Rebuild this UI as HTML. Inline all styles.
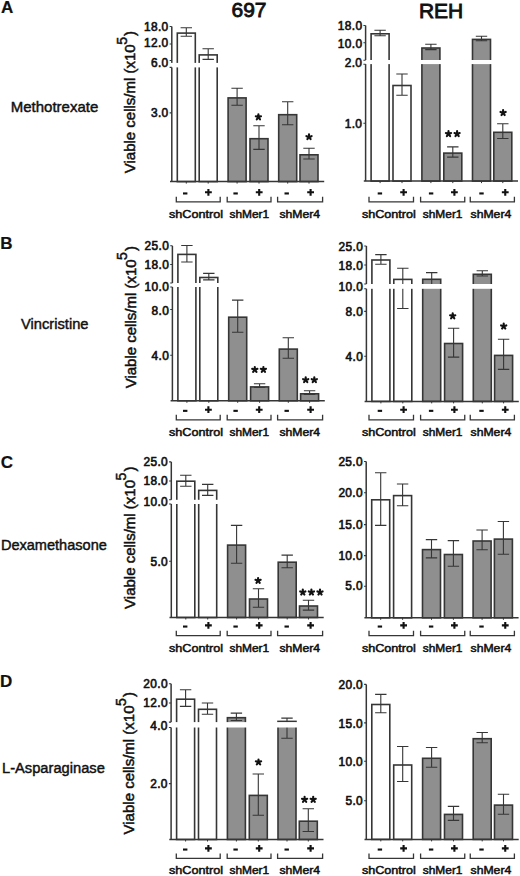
<!DOCTYPE html>
<html><head><meta charset="utf-8"><style>
html,body{margin:0;padding:0;background:#fff;}
svg{display:block;}
text{font-family:"Liberation Sans",sans-serif;fill:#111;stroke:#111;stroke-width:0.35px;}
.tl{font-size:11.9px;letter-spacing:0.35px;text-anchor:end;stroke-width:0.62px;}
.gl{font-size:10.9px;stroke-width:0.5px;}
.st{stroke-width:0.5px;font-size:17.5px;font-weight:bold;text-anchor:middle;letter-spacing:1.5px;}
.yl{font-size:15px;stroke-width:0.5px;}
.pl{font-size:17px;font-weight:bold;stroke-width:0.2px;}
.dl{stroke-width:0.45px;}
.tt{font-size:21px;stroke-width:0.85px;}
</style></head><body>
<svg width="520" height="876" viewBox="0 0 520 876">
<rect width="520" height="876" fill="#fff"/>
<rect x="177.3" y="33.1" width="18" height="148.5" fill="#fff" stroke="#363636" stroke-width="1.6"/>
<path d="M186.3 27.7V36.3M180.6 27.7H192M180.6 36.3H192" stroke="#363636" stroke-width="1.1" fill="none"/>
<rect x="199.2" y="54.9" width="18" height="126.7" fill="#fff" stroke="#363636" stroke-width="1.6"/>
<path d="M208.2 48.7V59.4M202.5 48.7H213.9M202.5 59.4H213.9" stroke="#363636" stroke-width="1.1" fill="none"/>
<rect x="228.1" y="97.9" width="18" height="83.7" fill="#8f8f8f" stroke="#363636" stroke-width="1.6"/>
<path d="M237.1 88.2V105.2M231.4 88.2H242.8M231.4 105.2H242.8" stroke="#363636" stroke-width="1.1" fill="none"/>
<rect x="250" y="138.7" width="18" height="42.9" fill="#8f8f8f" stroke="#363636" stroke-width="1.6"/>
<path d="M259 125.8V149.4M253.3 125.8H264.7M253.3 149.4H264.7" stroke="#363636" stroke-width="1.1" fill="none"/>
<rect x="278.7" y="114.7" width="18" height="66.9" fill="#8f8f8f" stroke="#363636" stroke-width="1.6"/>
<path d="M287.7 101.8V124.8M282 101.8H293.4M282 124.8H293.4" stroke="#363636" stroke-width="1.1" fill="none"/>
<rect x="300" y="154.8" width="18" height="26.8" fill="#8f8f8f" stroke="#363636" stroke-width="1.6"/>
<path d="M309 148.3V159M303.3 148.3H314.7M303.3 159H314.7" stroke="#363636" stroke-width="1.1" fill="none"/>
<path d="M171.8 26.5V181.6" stroke="#363636" stroke-width="1.5" fill="none"/>
<rect x="168.8" y="62.9" width="152" height="4.5" fill="#fff"/>
<path d="M169.6 26.5H171.8M169.6 44H171.8M169.6 60.5H171.8M169.6 67.4H171.8M169.6 112.9H171.8" stroke="#363636" stroke-width="1.1" fill="none"/>
<text x="168.55" y="30.75" class="tl">18.0</text>
<text x="168.55" y="46.75" class="tl">12.0</text>
<text x="168.55" y="66.85" class="tl">6.0</text>
<text x="168.55" y="117.05" class="tl">3.0</text>
<path d="M170 181.6H324.2" stroke="#363636" stroke-width="1.5" fill="none"/>
<path d="M186.3 181.6v2M208.2 181.6v2M237.1 181.6v2M259 181.6v2M287.7 181.6v2M309 181.6v2" stroke="#363636" stroke-width="1" fill="none"/>
<rect x="183" y="192.4" width="4.4" height="2.1" fill="#111"/>
<path d="M205 192.3H211.8M208.4 188.9V195.7" stroke="#111" stroke-width="2.1" fill="none"/>
<path d="M176.3 196.8V201.8H220.2V196.8" stroke="#363636" stroke-width="1.3" fill="none"/>
<text x="169.05" y="217.5" class="gl" textLength="54.0" lengthAdjust="spacingAndGlyphs">shControl</text>
<rect x="233.4" y="192.4" width="4.4" height="2.1" fill="#111"/>
<path d="M255.8 192.3H262.6M259.2 188.9V195.7" stroke="#111" stroke-width="2.1" fill="none"/>
<path d="M227.2 196.8V201.8H271V196.8" stroke="#363636" stroke-width="1.3" fill="none"/>
<text x="229.5" y="217.5" class="gl" textLength="39.7" lengthAdjust="spacingAndGlyphs">shMer1</text>
<rect x="284.5" y="192.4" width="4.4" height="2.1" fill="#111"/>
<path d="M307.2 192.3H314M310.6 188.9V195.7" stroke="#111" stroke-width="2.1" fill="none"/>
<path d="M277.6 196.8V201.8H322.6V196.8" stroke="#363636" stroke-width="1.3" fill="none"/>
<text x="279.4" y="217.5" class="gl" textLength="40.7" lengthAdjust="spacingAndGlyphs">shMer4</text>
<path d="M258.4 117.1L258.4 114.35M258.4 117.1L261.02 116.25M258.4 117.1L260.02 119.32M258.4 117.1L256.78 119.32M258.4 117.1L255.78 116.25" stroke="#111" stroke-width="2.1" stroke-linecap="round" fill="none"/>
<path d="M309 137L309 134.25M309 137L311.62 136.15M309 137L310.62 139.22M309 137L307.38 139.22M309 137L306.38 136.15" stroke="#111" stroke-width="2.1" stroke-linecap="round" fill="none"/>
<text transform="translate(135.1,173.25) rotate(-90)" class="yl">Viable cells/ml (x10<tspan dx="-0.5" dy="-8.6" font-size="14">5</tspan><tspan dx="1.1" dy="8.6">)</tspan></text>
<rect x="371.1" y="33.8" width="18" height="147.3" fill="#fff" stroke="#363636" stroke-width="1.6"/>
<path d="M380.1 30.2V35.8M374.4 30.2H385.8M374.4 35.8H385.8" stroke="#363636" stroke-width="1.1" fill="none"/>
<rect x="393" y="85.5" width="18" height="95.6" fill="#fff" stroke="#363636" stroke-width="1.6"/>
<path d="M402 74V95.3M396.3 74H407.7M396.3 95.3H407.7" stroke="#363636" stroke-width="1.1" fill="none"/>
<rect x="421.9" y="48" width="18" height="133.1" fill="#8f8f8f" stroke="#363636" stroke-width="1.6"/>
<path d="M430.9 44.3V49.6M425.2 44.3H436.6M425.2 49.6H436.6" stroke="#363636" stroke-width="1.1" fill="none"/>
<rect x="443.8" y="153.1" width="18" height="28" fill="#8f8f8f" stroke="#363636" stroke-width="1.6"/>
<path d="M452.8 146.9V157.1M447.1 146.9H458.5M447.1 157.1H458.5" stroke="#363636" stroke-width="1.1" fill="none"/>
<rect x="472.5" y="39.4" width="18" height="141.7" fill="#8f8f8f" stroke="#363636" stroke-width="1.6"/>
<path d="M481.5 36.3V40.7M475.8 36.3H487.2M475.8 40.7H487.2" stroke="#363636" stroke-width="1.1" fill="none"/>
<rect x="493.8" y="132.3" width="18" height="48.8" fill="#8f8f8f" stroke="#363636" stroke-width="1.6"/>
<path d="M502.8 123.8V138.5M497.1 123.8H508.5M497.1 138.5H508.5" stroke="#363636" stroke-width="1.1" fill="none"/>
<path d="M365.6 25.5V181.1" stroke="#363636" stroke-width="1.5" fill="none"/>
<rect x="362.6" y="60" width="152" height="4.1" fill="#fff"/>
<path d="M363.4 25.5H365.6M363.4 42.8H365.6M363.4 60.2H365.6M363.4 64.2H365.6M363.4 123.3H365.6" stroke="#363636" stroke-width="1.1" fill="none"/>
<text x="362.35" y="30.25" class="tl">18.0</text>
<text x="362.35" y="47.65" class="tl">10.0</text>
<text x="362.35" y="67.15" class="tl">2.0</text>
<text x="362.35" y="127.75" class="tl">1.0</text>
<path d="M363.8 181.1H518" stroke="#363636" stroke-width="1.5" fill="none"/>
<path d="M380.1 181.1v2M402 181.1v2M430.9 181.1v2M452.8 181.1v2M481.5 181.1v2M502.8 181.1v2" stroke="#363636" stroke-width="1" fill="none"/>
<rect x="377.7" y="192.4" width="4.4" height="2.1" fill="#111"/>
<path d="M400.2 192.3H407M403.6 188.9V195.7" stroke="#111" stroke-width="2.1" fill="none"/>
<path d="M369 196.8V201.8H413.5V196.8" stroke="#363636" stroke-width="1.3" fill="none"/>
<text x="361.9" y="217.5" class="gl" textLength="54.0" lengthAdjust="spacingAndGlyphs">shControl</text>
<rect x="428.9" y="192.4" width="4.4" height="2.1" fill="#111"/>
<path d="M451 192.3H457.8M454.4 188.9V195.7" stroke="#111" stroke-width="2.1" fill="none"/>
<path d="M420.6 196.8V201.8H464.75V196.8" stroke="#363636" stroke-width="1.3" fill="none"/>
<text x="422.8" y="217.5" class="gl" textLength="39.7" lengthAdjust="spacingAndGlyphs">shMer1</text>
<rect x="479.3" y="192.4" width="4.4" height="2.1" fill="#111"/>
<path d="M501.85 192.3H508.65M505.25 188.9V195.7" stroke="#111" stroke-width="2.1" fill="none"/>
<path d="M470.25 196.8V201.8H514.4V196.8" stroke="#363636" stroke-width="1.3" fill="none"/>
<text x="470.55" y="217.5" class="gl" textLength="40.7" lengthAdjust="spacingAndGlyphs">shMer4</text>
<path d="M448.5 133.9L448.5 131.15M448.5 133.9L451.12 133.05M448.5 133.9L450.12 136.12M448.5 133.9L446.88 136.12M448.5 133.9L445.88 133.05" stroke="#111" stroke-width="2.1" stroke-linecap="round" fill="none"/>
<path d="M457.1 133.9L457.1 131.15M457.1 133.9L459.72 133.05M457.1 133.9L458.72 136.12M457.1 133.9L455.48 136.12M457.1 133.9L454.48 133.05" stroke="#111" stroke-width="2.1" stroke-linecap="round" fill="none"/>
<path d="M503.1 112.8L503.1 110.05M503.1 112.8L505.72 111.95M503.1 112.8L504.72 115.02M503.1 112.8L501.48 115.02M503.1 112.8L500.48 111.95" stroke="#111" stroke-width="2.1" stroke-linecap="round" fill="none"/>
<rect x="177.9" y="254.4" width="18" height="146.4" fill="#fff" stroke="#363636" stroke-width="1.6"/>
<path d="M186.9 245.5V262M181.2 245.5H192.6M181.2 262H192.6" stroke="#363636" stroke-width="1.1" fill="none"/>
<rect x="199.8" y="277.5" width="18" height="123.3" fill="#fff" stroke="#363636" stroke-width="1.6"/>
<path d="M208.8 273.4V279.9M203.1 273.4H214.5M203.1 279.9H214.5" stroke="#363636" stroke-width="1.1" fill="none"/>
<rect x="228.7" y="317.2" width="18" height="83.6" fill="#8f8f8f" stroke="#363636" stroke-width="1.6"/>
<path d="M237.7 300.1V332.3M232 300.1H243.4M232 332.3H243.4" stroke="#363636" stroke-width="1.1" fill="none"/>
<rect x="250.6" y="386.9" width="18" height="13.9" fill="#8f8f8f" stroke="#363636" stroke-width="1.6"/>
<path d="M259.6 383.8V387.5M253.9 383.8H265.3M253.9 387.5H265.3" stroke="#363636" stroke-width="1.1" fill="none"/>
<rect x="279.3" y="349.1" width="18" height="51.7" fill="#8f8f8f" stroke="#363636" stroke-width="1.6"/>
<path d="M288.3 337.8V358.3M282.6 337.8H294M282.6 358.3H294" stroke="#363636" stroke-width="1.1" fill="none"/>
<rect x="300.6" y="393.8" width="18" height="7" fill="#8f8f8f" stroke="#363636" stroke-width="1.6"/>
<path d="M309.6 390.8V394.4M303.9 390.8H315.3M303.9 394.4H315.3" stroke="#363636" stroke-width="1.1" fill="none"/>
<path d="M172.4 245.8V400.8" stroke="#363636" stroke-width="1.5" fill="none"/>
<rect x="169.4" y="283" width="152" height="4" fill="#fff"/>
<path d="M170.2 245.8H172.4M170.2 264.5H172.4M170.2 283H172.4M170.2 287H172.4M170.2 309.5H172.4M170.2 355.3H172.4" stroke="#363636" stroke-width="1.1" fill="none"/>
<text x="169.15" y="249.75" class="tl">25.0</text>
<text x="169.15" y="268.75" class="tl">18.0</text>
<text x="169.15" y="291.15" class="tl">10.0</text>
<text x="169.15" y="315.15" class="tl">8.0</text>
<text x="169.15" y="360.35" class="tl">4.0</text>
<path d="M170.6 400.8H324.8" stroke="#363636" stroke-width="1.5" fill="none"/>
<path d="M186.9 400.8v2M208.8 400.8v2M237.7 400.8v2M259.6 400.8v2M288.3 400.8v2M309.6 400.8v2" stroke="#363636" stroke-width="1" fill="none"/>
<rect x="183" y="409.8" width="4.4" height="2.1" fill="#111"/>
<path d="M205 409.7H211.8M208.4 406.3V413.1" stroke="#111" stroke-width="2.1" fill="none"/>
<path d="M176.3 414.8V419.8H220.2V414.8" stroke="#363636" stroke-width="1.3" fill="none"/>
<text x="169.05" y="435.6" class="gl" textLength="54.0" lengthAdjust="spacingAndGlyphs">shControl</text>
<rect x="233.4" y="409.8" width="4.4" height="2.1" fill="#111"/>
<path d="M255.8 409.7H262.6M259.2 406.3V413.1" stroke="#111" stroke-width="2.1" fill="none"/>
<path d="M227.2 414.8V419.8H271V414.8" stroke="#363636" stroke-width="1.3" fill="none"/>
<text x="229.5" y="435.6" class="gl" textLength="39.7" lengthAdjust="spacingAndGlyphs">shMer1</text>
<rect x="284.5" y="409.8" width="4.4" height="2.1" fill="#111"/>
<path d="M307.2 409.7H314M310.6 406.3V413.1" stroke="#111" stroke-width="2.1" fill="none"/>
<path d="M277.6 414.8V419.8H322.6V414.8" stroke="#363636" stroke-width="1.3" fill="none"/>
<text x="279.4" y="435.6" class="gl" textLength="40.7" lengthAdjust="spacingAndGlyphs">shMer4</text>
<path d="M254.8 369.7L254.8 366.95M254.8 369.7L257.42 368.85M254.8 369.7L256.42 371.92M254.8 369.7L253.18 371.92M254.8 369.7L252.18 368.85" stroke="#111" stroke-width="2.1" stroke-linecap="round" fill="none"/>
<path d="M263.4 369.7L263.4 366.95M263.4 369.7L266.02 368.85M263.4 369.7L265.02 371.92M263.4 369.7L261.78 371.92M263.4 369.7L260.78 368.85" stroke="#111" stroke-width="2.1" stroke-linecap="round" fill="none"/>
<path d="M305.7 380L305.7 377.25M305.7 380L308.32 379.15M305.7 380L307.32 382.22M305.7 380L304.08 382.22M305.7 380L303.08 379.15" stroke="#111" stroke-width="2.1" stroke-linecap="round" fill="none"/>
<path d="M314.3 380L314.3 377.25M314.3 380L316.92 379.15M314.3 380L315.92 382.22M314.3 380L312.68 382.22M314.3 380L311.68 379.15" stroke="#111" stroke-width="2.1" stroke-linecap="round" fill="none"/>
<text transform="translate(135.7,388.35) rotate(-90)" class="yl">Viable cells/ml (x10<tspan dx="-0.5" dy="-8.6" font-size="14">5</tspan><tspan dx="1.1" dy="8.6">)</tspan></text>
<rect x="371.9" y="260" width="18" height="141.4" fill="#fff" stroke="#363636" stroke-width="1.6"/>
<path d="M380.9 254.6V264.2M375.2 254.6H386.6M375.2 264.2H386.6" stroke="#363636" stroke-width="1.1" fill="none"/>
<rect x="393.8" y="279.4" width="18" height="122" fill="#fff" stroke="#363636" stroke-width="1.6"/>
<path d="M402.8 268.2V308.5M397.1 268.2H408.5M397.1 308.5H408.5" stroke="#363636" stroke-width="1.1" fill="none"/>
<rect x="422.7" y="279.3" width="18" height="122.1" fill="#8f8f8f" stroke="#363636" stroke-width="1.6"/>
<path d="M431.7 272.6V284.5M426 272.6H437.4M426 284.5H437.4" stroke="#363636" stroke-width="1.1" fill="none"/>
<rect x="444.6" y="343.5" width="18" height="57.9" fill="#8f8f8f" stroke="#363636" stroke-width="1.6"/>
<path d="M453.6 328.2V357.1M447.9 328.2H459.3M447.9 357.1H459.3" stroke="#363636" stroke-width="1.1" fill="none"/>
<rect x="473.3" y="274.3" width="18" height="127.1" fill="#8f8f8f" stroke="#363636" stroke-width="1.6"/>
<path d="M482.3 270.8V276M476.6 270.8H488M476.6 276H488" stroke="#363636" stroke-width="1.1" fill="none"/>
<rect x="494.6" y="355.4" width="18" height="46" fill="#8f8f8f" stroke="#363636" stroke-width="1.6"/>
<path d="M503.6 339.3V369.4M497.9 339.3H509.3M497.9 369.4H509.3" stroke="#363636" stroke-width="1.1" fill="none"/>
<path d="M366.4 246V401.4" stroke="#363636" stroke-width="1.5" fill="none"/>
<rect x="363.4" y="284" width="152" height="4.8" fill="#fff"/>
<path d="M364.2 246H366.4M364.2 265H366.4M364.2 284H366.4M364.2 288.8H366.4M364.2 311.4H366.4M364.2 356.3H366.4" stroke="#363636" stroke-width="1.1" fill="none"/>
<text x="363.15" y="250.55" class="tl">25.0</text>
<text x="363.15" y="269.55" class="tl">18.0</text>
<text x="363.15" y="290.85" class="tl">10.0</text>
<text x="363.15" y="315.85" class="tl">8.0</text>
<text x="363.15" y="360.85" class="tl">4.0</text>
<path d="M364.6 401.4H518.8" stroke="#363636" stroke-width="1.5" fill="none"/>
<path d="M380.9 401.4v2M402.8 401.4v2M431.7 401.4v2M453.6 401.4v2M482.3 401.4v2M503.6 401.4v2" stroke="#363636" stroke-width="1" fill="none"/>
<rect x="377.7" y="409.8" width="4.4" height="2.1" fill="#111"/>
<path d="M400.2 409.7H407M403.6 406.3V413.1" stroke="#111" stroke-width="2.1" fill="none"/>
<path d="M369 414.8V419.8H413.5V414.8" stroke="#363636" stroke-width="1.3" fill="none"/>
<text x="361.9" y="435.6" class="gl" textLength="54.0" lengthAdjust="spacingAndGlyphs">shControl</text>
<rect x="428.9" y="409.8" width="4.4" height="2.1" fill="#111"/>
<path d="M451 409.7H457.8M454.4 406.3V413.1" stroke="#111" stroke-width="2.1" fill="none"/>
<path d="M420.6 414.8V419.8H464.75V414.8" stroke="#363636" stroke-width="1.3" fill="none"/>
<text x="422.8" y="435.6" class="gl" textLength="39.7" lengthAdjust="spacingAndGlyphs">shMer1</text>
<rect x="479.3" y="409.8" width="4.4" height="2.1" fill="#111"/>
<path d="M501.85 409.7H508.65M505.25 406.3V413.1" stroke="#111" stroke-width="2.1" fill="none"/>
<path d="M470.25 414.8V419.8H514.4V414.8" stroke="#363636" stroke-width="1.3" fill="none"/>
<text x="470.55" y="435.6" class="gl" textLength="40.7" lengthAdjust="spacingAndGlyphs">shMer4</text>
<path d="M452.7 316.1L452.7 313.35M452.7 316.1L455.32 315.25M452.7 316.1L454.32 318.32M452.7 316.1L451.08 318.32M452.7 316.1L450.08 315.25" stroke="#111" stroke-width="2.1" stroke-linecap="round" fill="none"/>
<path d="M503.7 326.3L503.7 323.55M503.7 326.3L506.32 325.45M503.7 326.3L505.32 328.52M503.7 326.3L502.08 328.52M503.7 326.3L501.08 325.45" stroke="#111" stroke-width="2.1" stroke-linecap="round" fill="none"/>
<rect x="176.8" y="481.2" width="18" height="136.3" fill="#fff" stroke="#363636" stroke-width="1.6"/>
<path d="M185.8 475.2V486.2M180.1 475.2H191.5M180.1 486.2H191.5" stroke="#363636" stroke-width="1.1" fill="none"/>
<rect x="198.7" y="490.4" width="18" height="127.1" fill="#fff" stroke="#363636" stroke-width="1.6"/>
<path d="M207.7 484.4V495.4M202 484.4H213.4M202 495.4H213.4" stroke="#363636" stroke-width="1.1" fill="none"/>
<rect x="227.6" y="545.1" width="18" height="72.4" fill="#8f8f8f" stroke="#363636" stroke-width="1.6"/>
<path d="M236.6 525.4V563.3M230.9 525.4H242.3M230.9 563.3H242.3" stroke="#363636" stroke-width="1.1" fill="none"/>
<rect x="249.5" y="599" width="18" height="18.5" fill="#8f8f8f" stroke="#363636" stroke-width="1.6"/>
<path d="M258.5 588.7V607.3M252.8 588.7H264.2M252.8 607.3H264.2" stroke="#363636" stroke-width="1.1" fill="none"/>
<rect x="278.2" y="562.2" width="18" height="55.3" fill="#8f8f8f" stroke="#363636" stroke-width="1.6"/>
<path d="M287.2 555.1V567.8M281.5 555.1H292.9M281.5 567.8H292.9" stroke="#363636" stroke-width="1.1" fill="none"/>
<rect x="299.5" y="606" width="18" height="11.5" fill="#8f8f8f" stroke="#363636" stroke-width="1.6"/>
<path d="M308.5 600.3V610.1M302.8 600.3H314.2M302.8 610.1H314.2" stroke="#363636" stroke-width="1.1" fill="none"/>
<path d="M171.3 461.9V617.5" stroke="#363636" stroke-width="1.5" fill="none"/>
<rect x="168.3" y="499.8" width="152" height="4.2" fill="#fff"/>
<path d="M169.1 461.9H171.3M169.1 481H171.3M169.1 499.8H171.3M169.1 504H171.3M169.1 561.2H171.3" stroke="#363636" stroke-width="1.1" fill="none"/>
<text x="168.05" y="465.95" class="tl">25.0</text>
<text x="168.05" y="484.75" class="tl">18.0</text>
<text x="168.05" y="505.95" class="tl">10.0</text>
<text x="168.05" y="565.75" class="tl">5.0</text>
<path d="M169.5 617.5H323.7" stroke="#363636" stroke-width="1.5" fill="none"/>
<path d="M185.8 617.5v2M207.7 617.5v2M236.6 617.5v2M258.5 617.5v2M287.2 617.5v2M308.5 617.5v2" stroke="#363636" stroke-width="1" fill="none"/>
<rect x="183" y="625.5" width="4.4" height="2.1" fill="#111"/>
<path d="M205 625.4H211.8M208.4 622V628.8" stroke="#111" stroke-width="2.1" fill="none"/>
<path d="M176.3 630.7V635.7H220.2V630.7" stroke="#363636" stroke-width="1.3" fill="none"/>
<text x="169.05" y="651.7" class="gl" textLength="54.0" lengthAdjust="spacingAndGlyphs">shControl</text>
<rect x="233.4" y="625.5" width="4.4" height="2.1" fill="#111"/>
<path d="M255.8 625.4H262.6M259.2 622V628.8" stroke="#111" stroke-width="2.1" fill="none"/>
<path d="M227.2 630.7V635.7H271V630.7" stroke="#363636" stroke-width="1.3" fill="none"/>
<text x="229.5" y="651.7" class="gl" textLength="39.7" lengthAdjust="spacingAndGlyphs">shMer1</text>
<rect x="284.5" y="625.5" width="4.4" height="2.1" fill="#111"/>
<path d="M307.2 625.4H314M310.6 622V628.8" stroke="#111" stroke-width="2.1" fill="none"/>
<path d="M277.6 630.7V635.7H322.6V630.7" stroke="#363636" stroke-width="1.3" fill="none"/>
<text x="279.4" y="651.7" class="gl" textLength="40.7" lengthAdjust="spacingAndGlyphs">shMer4</text>
<path d="M258.1 580.7L258.1 577.95M258.1 580.7L260.72 579.85M258.1 580.7L259.72 582.92M258.1 580.7L256.48 582.92M258.1 580.7L255.48 579.85" stroke="#111" stroke-width="2.1" stroke-linecap="round" fill="none"/>
<path d="M302.8 592.3L302.8 589.55M302.8 592.3L305.42 591.45M302.8 592.3L304.42 594.52M302.8 592.3L301.18 594.52M302.8 592.3L300.18 591.45" stroke="#111" stroke-width="2.1" stroke-linecap="round" fill="none"/>
<path d="M311.4 592.3L311.4 589.55M311.4 592.3L314.02 591.45M311.4 592.3L313.02 594.52M311.4 592.3L309.78 594.52M311.4 592.3L308.78 591.45" stroke="#111" stroke-width="2.1" stroke-linecap="round" fill="none"/>
<path d="M320 592.3L320 589.55M320 592.3L322.62 591.45M320 592.3L321.62 594.52M320 592.3L318.38 594.52M320 592.3L317.38 591.45" stroke="#111" stroke-width="2.1" stroke-linecap="round" fill="none"/>
<text transform="translate(134.6,608.9) rotate(-90)" class="yl">Viable cells/ml (x10<tspan dx="-0.5" dy="-8.6" font-size="14">5</tspan><tspan dx="1.1" dy="8.6">)</tspan></text>
<rect x="371.7" y="499.8" width="18" height="118" fill="#fff" stroke="#363636" stroke-width="1.6"/>
<path d="M380.7 472.7V525.4M375 472.7H386.4M375 525.4H386.4" stroke="#363636" stroke-width="1.1" fill="none"/>
<rect x="393.6" y="495.6" width="18" height="122.2" fill="#fff" stroke="#363636" stroke-width="1.6"/>
<path d="M402.6 484V505.8M396.9 484H408.3M396.9 505.8H408.3" stroke="#363636" stroke-width="1.1" fill="none"/>
<rect x="422.5" y="549.6" width="18" height="68.2" fill="#8f8f8f" stroke="#363636" stroke-width="1.6"/>
<path d="M431.5 539.6V557.9M425.8 539.6H437.2M425.8 557.9H437.2" stroke="#363636" stroke-width="1.1" fill="none"/>
<rect x="444.4" y="554.5" width="18" height="63.3" fill="#8f8f8f" stroke="#363636" stroke-width="1.6"/>
<path d="M453.4 540.6V566.2M447.7 540.6H459.1M447.7 566.2H459.1" stroke="#363636" stroke-width="1.1" fill="none"/>
<rect x="473.1" y="541" width="18" height="76.8" fill="#8f8f8f" stroke="#363636" stroke-width="1.6"/>
<path d="M482.1 530V549.8M476.4 530H487.8M476.4 549.8H487.8" stroke="#363636" stroke-width="1.1" fill="none"/>
<rect x="494.4" y="539.1" width="18" height="78.7" fill="#8f8f8f" stroke="#363636" stroke-width="1.6"/>
<path d="M503.4 521.5V554.2M497.7 521.5H509.1M497.7 554.2H509.1" stroke="#363636" stroke-width="1.1" fill="none"/>
<path d="M366.2 461.5V617.8" stroke="#363636" stroke-width="1.5" fill="none"/>
<path d="M364 461.5H366.2M364 492.7H366.2M364 524.6H366.2M364 555.6H366.2M364 586.3H366.2" stroke="#363636" stroke-width="1.1" fill="none"/>
<text x="362.95" y="465.65" class="tl">25.0</text>
<text x="362.95" y="496.85" class="tl">20.0</text>
<text x="362.95" y="528.75" class="tl">15.0</text>
<text x="362.95" y="559.75" class="tl">10.0</text>
<text x="362.95" y="590.45" class="tl">5.0</text>
<path d="M364.4 617.8H518.6" stroke="#363636" stroke-width="1.5" fill="none"/>
<path d="M380.7 617.8v2M402.6 617.8v2M431.5 617.8v2M453.4 617.8v2M482.1 617.8v2M503.4 617.8v2" stroke="#363636" stroke-width="1" fill="none"/>
<rect x="377.7" y="625.5" width="4.4" height="2.1" fill="#111"/>
<path d="M400.2 625.4H407M403.6 622V628.8" stroke="#111" stroke-width="2.1" fill="none"/>
<path d="M369 630.7V635.7H413.5V630.7" stroke="#363636" stroke-width="1.3" fill="none"/>
<text x="361.9" y="651.7" class="gl" textLength="54.0" lengthAdjust="spacingAndGlyphs">shControl</text>
<rect x="428.9" y="625.5" width="4.4" height="2.1" fill="#111"/>
<path d="M451 625.4H457.8M454.4 622V628.8" stroke="#111" stroke-width="2.1" fill="none"/>
<path d="M420.6 630.7V635.7H464.75V630.7" stroke="#363636" stroke-width="1.3" fill="none"/>
<text x="422.8" y="651.7" class="gl" textLength="39.7" lengthAdjust="spacingAndGlyphs">shMer1</text>
<rect x="479.3" y="625.5" width="4.4" height="2.1" fill="#111"/>
<path d="M501.85 625.4H508.65M505.25 622V628.8" stroke="#111" stroke-width="2.1" fill="none"/>
<path d="M470.25 630.7V635.7H514.4V630.7" stroke="#363636" stroke-width="1.3" fill="none"/>
<text x="470.55" y="651.7" class="gl" textLength="40.7" lengthAdjust="spacingAndGlyphs">shMer4</text>
<rect x="176.6" y="699.2" width="18" height="140.3" fill="#fff" stroke="#363636" stroke-width="1.6"/>
<path d="M185.6 689.8V706.4M179.9 689.8H191.3M179.9 706.4H191.3" stroke="#363636" stroke-width="1.1" fill="none"/>
<rect x="198.5" y="709.3" width="18" height="130.2" fill="#fff" stroke="#363636" stroke-width="1.6"/>
<path d="M207.5 703V714.2M201.8 703H213.2M201.8 714.2H213.2" stroke="#363636" stroke-width="1.1" fill="none"/>
<rect x="227.4" y="717.7" width="18" height="121.8" fill="#8f8f8f" stroke="#363636" stroke-width="1.6"/>
<path d="M236.4 713.1V720.5M230.7 713.1H242.1M230.7 720.5H242.1" stroke="#363636" stroke-width="1.1" fill="none"/>
<rect x="249.3" y="795.4" width="18" height="44.1" fill="#8f8f8f" stroke="#363636" stroke-width="1.6"/>
<path d="M258.3 774V815.2M252.6 774H264M252.6 815.2H264" stroke="#363636" stroke-width="1.1" fill="none"/>
<rect x="278" y="721.4" width="18" height="118.1" fill="#8f8f8f" stroke="#363636" stroke-width="1.6"/>
<path d="M287 718.1V738.2M281.3 718.1H292.7M281.3 738.2H292.7" stroke="#363636" stroke-width="1.1" fill="none"/>
<rect x="299.3" y="821.2" width="18" height="18.3" fill="#8f8f8f" stroke="#363636" stroke-width="1.6"/>
<path d="M308.3 808.8V831.5M302.6 808.8H314M302.6 831.5H314" stroke="#363636" stroke-width="1.1" fill="none"/>
<path d="M171.1 683.7V839.5" stroke="#363636" stroke-width="1.5" fill="none"/>
<rect x="168.1" y="722.1" width="152" height="5.4" fill="#fff"/>
<path d="M168.9 683.7H171.1M168.9 703H171.1M168.9 722.1H171.1M168.9 727.5H171.1M168.9 783.6H171.1" stroke="#363636" stroke-width="1.1" fill="none"/>
<text x="167.85" y="687.85" class="tl">20.0</text>
<text x="167.85" y="707.15" class="tl">12.0</text>
<text x="167.85" y="729.55" class="tl">4.0</text>
<text x="167.85" y="787.75" class="tl">2.0</text>
<path d="M169.3 839.5H323.5" stroke="#363636" stroke-width="1.5" fill="none"/>
<path d="M185.6 839.5v2M207.5 839.5v2M236.4 839.5v2M258.3 839.5v2M287 839.5v2M308.3 839.5v2" stroke="#363636" stroke-width="1" fill="none"/>
<rect x="183" y="848.5" width="4.4" height="2.1" fill="#111"/>
<path d="M205 848.4H211.8M208.4 845V851.8" stroke="#111" stroke-width="2.1" fill="none"/>
<path d="M176.3 853.4V858.4H220.2V853.4" stroke="#363636" stroke-width="1.3" fill="none"/>
<text x="169.05" y="874.3" class="gl" textLength="54.0" lengthAdjust="spacingAndGlyphs">shControl</text>
<rect x="233.4" y="848.5" width="4.4" height="2.1" fill="#111"/>
<path d="M255.8 848.4H262.6M259.2 845V851.8" stroke="#111" stroke-width="2.1" fill="none"/>
<path d="M227.2 853.4V858.4H271V853.4" stroke="#363636" stroke-width="1.3" fill="none"/>
<text x="229.5" y="874.3" class="gl" textLength="39.7" lengthAdjust="spacingAndGlyphs">shMer1</text>
<rect x="284.5" y="848.5" width="4.4" height="2.1" fill="#111"/>
<path d="M307.2 848.4H314M310.6 845V851.8" stroke="#111" stroke-width="2.1" fill="none"/>
<path d="M277.6 853.4V858.4H322.6V853.4" stroke="#363636" stroke-width="1.3" fill="none"/>
<text x="279.4" y="874.3" class="gl" textLength="40.7" lengthAdjust="spacingAndGlyphs">shMer4</text>
<path d="M258.5 762.2L258.5 759.45M258.5 762.2L261.12 761.35M258.5 762.2L260.12 764.42M258.5 762.2L256.88 764.42M258.5 762.2L255.88 761.35" stroke="#111" stroke-width="2.1" stroke-linecap="round" fill="none"/>
<path d="M304.6 799.6L304.6 796.85M304.6 799.6L307.22 798.75M304.6 799.6L306.22 801.82M304.6 799.6L302.98 801.82M304.6 799.6L301.98 798.75" stroke="#111" stroke-width="2.1" stroke-linecap="round" fill="none"/>
<path d="M313.2 799.6L313.2 796.85M313.2 799.6L315.82 798.75M313.2 799.6L314.82 801.82M313.2 799.6L311.58 801.82M313.2 799.6L310.58 798.75" stroke="#111" stroke-width="2.1" stroke-linecap="round" fill="none"/>
<text transform="translate(134.4,834.45) rotate(-90)" class="yl">Viable cells/ml (x10<tspan dx="-0.5" dy="-8.6" font-size="14">5</tspan><tspan dx="1.1" dy="8.6">)</tspan></text>
<rect x="371.8" y="704.5" width="18" height="134.9" fill="#fff" stroke="#363636" stroke-width="1.6"/>
<path d="M380.8 694.4V712.7M375.1 694.4H386.5M375.1 712.7H386.5" stroke="#363636" stroke-width="1.1" fill="none"/>
<rect x="393.7" y="765" width="18" height="74.4" fill="#fff" stroke="#363636" stroke-width="1.6"/>
<path d="M402.7 746.5V781.5M397 746.5H408.4M397 781.5H408.4" stroke="#363636" stroke-width="1.1" fill="none"/>
<rect x="422.6" y="758.3" width="18" height="81.1" fill="#8f8f8f" stroke="#363636" stroke-width="1.6"/>
<path d="M431.6 747.5V767.2M425.9 747.5H437.3M425.9 767.2H437.3" stroke="#363636" stroke-width="1.1" fill="none"/>
<rect x="444.5" y="814.4" width="18" height="25" fill="#8f8f8f" stroke="#363636" stroke-width="1.6"/>
<path d="M453.5 806.4V820.4M447.8 806.4H459.2M447.8 820.4H459.2" stroke="#363636" stroke-width="1.1" fill="none"/>
<rect x="473.2" y="738.7" width="18" height="100.7" fill="#8f8f8f" stroke="#363636" stroke-width="1.6"/>
<path d="M482.2 732.5V742.7M476.5 732.5H487.9M476.5 742.7H487.9" stroke="#363636" stroke-width="1.1" fill="none"/>
<rect x="494.5" y="805.1" width="18" height="34.3" fill="#8f8f8f" stroke="#363636" stroke-width="1.6"/>
<path d="M503.5 794.3V814.3M497.8 794.3H509.2M497.8 814.3H509.2" stroke="#363636" stroke-width="1.1" fill="none"/>
<path d="M366.3 684.4V839.4" stroke="#363636" stroke-width="1.5" fill="none"/>
<path d="M364.1 684.4H366.3M364.1 722.9H366.3M364.1 761.3H366.3M364.1 800.8H366.3" stroke="#363636" stroke-width="1.1" fill="none"/>
<text x="363.05" y="688.65" class="tl">20.0</text>
<text x="363.05" y="727.65" class="tl">15.0</text>
<text x="363.05" y="766.25" class="tl">10.0</text>
<text x="363.05" y="805.05" class="tl">5.0</text>
<path d="M364.5 839.4H518.7" stroke="#363636" stroke-width="1.5" fill="none"/>
<path d="M380.8 839.4v2M402.7 839.4v2M431.6 839.4v2M453.5 839.4v2M482.2 839.4v2M503.5 839.4v2" stroke="#363636" stroke-width="1" fill="none"/>
<rect x="377.7" y="848.5" width="4.4" height="2.1" fill="#111"/>
<path d="M400.2 848.4H407M403.6 845V851.8" stroke="#111" stroke-width="2.1" fill="none"/>
<path d="M369 853.4V858.4H413.5V853.4" stroke="#363636" stroke-width="1.3" fill="none"/>
<text x="361.9" y="874.3" class="gl" textLength="54.0" lengthAdjust="spacingAndGlyphs">shControl</text>
<rect x="428.9" y="848.5" width="4.4" height="2.1" fill="#111"/>
<path d="M451 848.4H457.8M454.4 845V851.8" stroke="#111" stroke-width="2.1" fill="none"/>
<path d="M420.6 853.4V858.4H464.75V853.4" stroke="#363636" stroke-width="1.3" fill="none"/>
<text x="422.8" y="874.3" class="gl" textLength="39.7" lengthAdjust="spacingAndGlyphs">shMer1</text>
<rect x="479.3" y="848.5" width="4.4" height="2.1" fill="#111"/>
<path d="M501.85 848.4H508.65M505.25 845V851.8" stroke="#111" stroke-width="2.1" fill="none"/>
<path d="M470.25 853.4V858.4H514.4V853.4" stroke="#363636" stroke-width="1.3" fill="none"/>
<text x="470.55" y="874.3" class="gl" textLength="40.7" lengthAdjust="spacingAndGlyphs">shMer4</text>
<text x="0.9" y="13.45" class="pl">A</text>
<text x="0.3" y="249.2" class="pl">B</text>
<text x="0.85" y="467.6" class="pl">C</text>
<text x="0.1" y="687.2" class="pl">D</text>
<text x="10.7" y="112.1" class="dl" font-size="15">Methotrexate</text>
<text x="21" y="328.75" class="dl" font-size="14.7">Vincristine</text>
<text x="0.9" y="549.9" class="dl" font-size="14.55">Dexamethasone</text>
<text x="2" y="772.6" class="dl" font-size="14.7">L-Asparaginase</text>
<text x="231.5" y="17.3" class="tt">697</text>
<text x="418.9" y="18.3" class="tt">REH</text>
</svg>
</body></html>
